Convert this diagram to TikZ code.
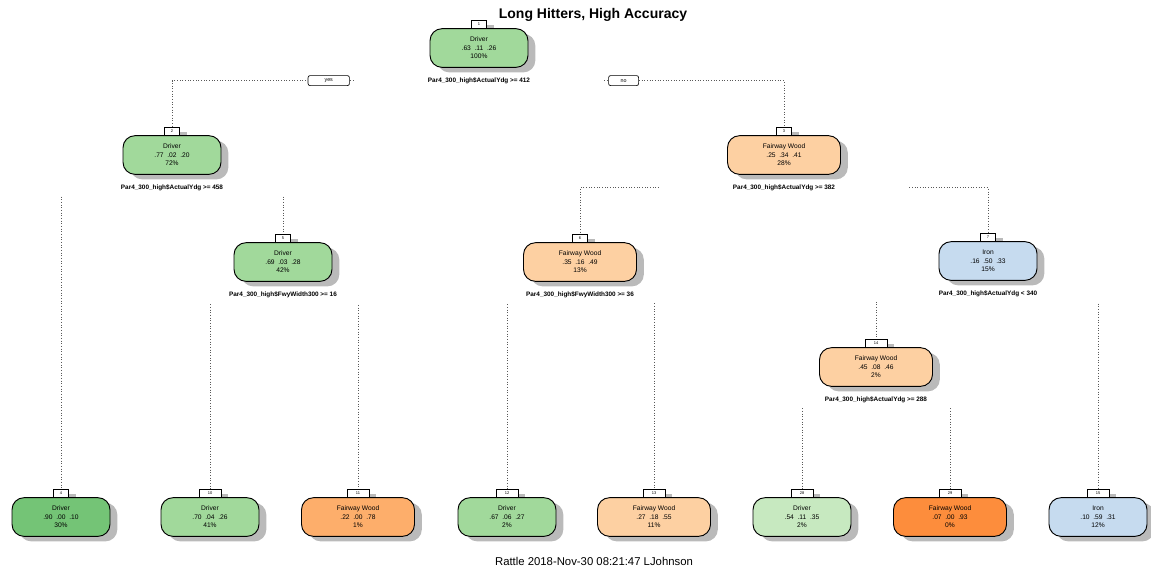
\documentclass[tikz,border=0pt]{standalone}
\usepackage{fontspec}
\setmainfont{Liberation Sans}
\usetikzlibrary{positioning,shadows}

\definecolor{driverA}{HTML}{C7E9C0}
\definecolor{driverB}{HTML}{A1D99B}
\definecolor{driverC}{HTML}{74C476}
\definecolor{woodA}{HTML}{FDD0A2}
\definecolor{woodB}{HTML}{FDAE6B}
\definecolor{woodC}{HTML}{FD8D3C}
\definecolor{ironA}{HTML}{C6DBEF}

\pgfdeclarelayer{wires}
\pgfdeclarelayer{labels}
\pgfsetlayers{wires,labels,main}

% name / x / y / class / probabilities / percent / fill / width
\def\treenodes{1/479/48/Driver/.63/.11/.26/100/driverB/98,
    2/172/155/Driver/.77/.02/.20/72/driverB/98,
    3/784/155/Fairway Wood/.25/.34/.41/28/woodA/113,
    5/283/262/Driver/.69/.03/.28/42/driverB/98,
    6/580/262/Fairway Wood/.35/.16/.49/13/woodA/113,
    7/988/261/Iron/.16/.50/.33/15/ironA/98,
    14/876/367/Fairway Wood/.45/.08/.46/2/woodA/113,
    4/61/517/Driver/.90/.00/.10/30/driverC/98,
    10/210/517/Driver/.70/.04/.26/41/driverB/98,
    11/358/517/Fairway Wood/.22/.00/.78/1/woodB/113,
    12/507/517/Driver/.67/.06/.27/2/driverB/98,
    13/654/517/Fairway Wood/.27/.18/.55/11/woodA/113,
    28/802/517/Driver/.54/.11/.35/2/driverA/98,
    29/950/517/Fairway Wood/.07/.00/.93/0/woodC/113,
    15/1098/517/Iron/.10/.59/.31/12/ironA/98}

\begin{document}
\begin{tikzpicture}[x=0.75pt,y=-0.75pt]
    \tikzstyle{box shadow}=[drop shadow={shadow xshift=5.5pt, shadow yshift=-3.8pt, fill=black!27, opacity=1}]
    \tikzstyle{class box}=[rectangle, rounded corners=9pt, draw=black, line width=0.7pt, minimum height=29pt, inner sep=0pt, align=center, font=\fontsize{5}{6.4}\selectfont, box shadow]
    \tikzstyle{node tab}=[rectangle, draw=black, line width=0.5pt, fill=white, minimum height=6.5pt, inner sep=0pt, font=\fontsize{3}{3}\selectfont, box shadow]
    \tikzstyle{split label}=[fill=white, minimum width=187.5pt, minimum height=12pt, inner sep=0pt, font=\bfseries\fontsize{4.8}{5}\selectfont]
    \tikzstyle{yes no}=[draw=black, line width=0.5pt, fill=white, rounded corners=1.5pt, minimum height=7.5pt, inner sep=0pt, font=\fontsize{4}{4}\selectfont]
    \tikzstyle{branch line}=[draw=black!65, line width=0.5pt, dash pattern=on 0.6pt off 1.4pt]

    \useasboundingbox (0,0) rectangle (1151,569);

    \node[font=\bfseries\fontsize{10.5}{12}\selectfont] (title) at (593,15) {Long Hitters, High Accuracy};
    \node[font=\fontsize{8.5}{10}\selectfont] (stamp) at (594,561) {Rattle 2018-Nov-30 08:21:47 LJohnson};

    % Draw the number tabs first, so that the boxes cover their shadows
    \foreach \n/\x/\y/\cls/\pa/\pb/\pc/\pct/\col/\w in \treenodes {
        \pgfmathsetmacro\tw{\n<10 ? 11 : 16.5}
        \node[node tab, minimum width=\tw pt] (T-\n) at (\x,{\y-23.5}) {\n};
    }

    % Draw the class boxes
    \foreach \n/\x/\y/\cls/\pa/\pb/\pc/\pct/\col/\w in \treenodes
        \node[class box, fill=\col, minimum width=\w*0.75pt] (N-\n) at (\x,\y) {\cls\\\pa\ \ \pb\ \ \pc\\\pct\%};

    % Split rules under the inner boxes
    \begin{pgfonlayer}{labels}
    \foreach \n/\cond in {1/{Par4\_300\_high\$ActualYdg >= 412},
        2/{Par4\_300\_high\$ActualYdg >= 458},
        3/{Par4\_300\_high\$ActualYdg >= 382},
        5/{Par4\_300\_high\$FwyWidth300 >= 16},
        6/{Par4\_300\_high\$FwyWidth300 >= 36},
        7/{Par4\_300\_high\$ActualYdg < 340},
        14/{Par4\_300\_high\$ActualYdg >= 288}}
        \node[split label, below=3.4pt of N-\n] (S-\n) {\cond};

    \node[yes no, minimum width=31pt, left=3pt of S-1] (yes) {yes};
    \node[yes no, minimum width=22.5pt, right=3pt of S-1] (no) {no};
    \end{pgfonlayer}

    % Connect every split with its two children
    \begin{pgfonlayer}{wires}
    \foreach \source/\dest in {1/2,1/3,2/4,2/5,3/6,3/7,5/10,5/11,6/12,6/13,7/14,7/15,14/28,14/29}
        \draw[branch line] (S-\source.center) -| (T-\dest.north);
    \end{pgfonlayer}
\end{tikzpicture}
\end{document}
